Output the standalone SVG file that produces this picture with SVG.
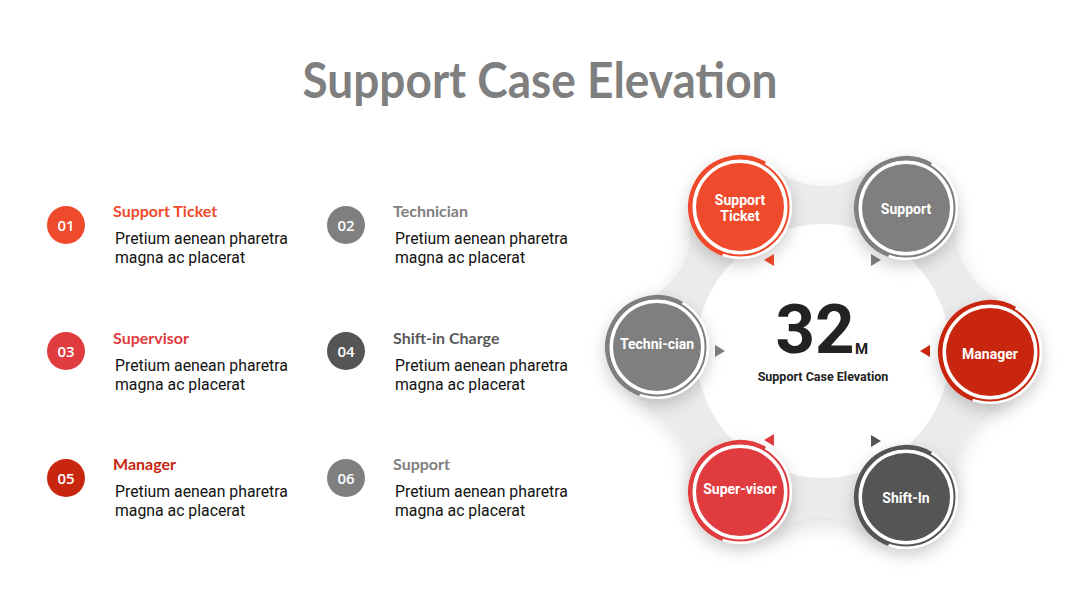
<svg xmlns="http://www.w3.org/2000/svg" width="1080" height="608" viewBox="0 0 1080 608">
<defs>
<style>
.title{font-family:Lato,"Open Sans","Liberation Sans",sans-serif;font-weight:700;fill:#7f7f7f}
.num{font-family:"Open Sans","Liberation Sans",sans-serif;font-weight:600;font-size:15px;fill:#fff;text-anchor:middle}
.head{font-family:Lato,"Open Sans","Liberation Sans",sans-serif;font-weight:700;font-size:16px}
.body{font-family:Roboto,"Liberation Sans",sans-serif;font-size:15.8px;fill:#111}
.lbl{font-family:Roboto,"Liberation Sans",sans-serif;font-weight:700;font-size:14px;fill:#fff;text-anchor:middle}
.ring{fill:none;stroke-width:2}
.arc{fill:none;stroke-width:4}
</style>
<filter id="sh" x="-50%" y="-50%" width="200%" height="200%"><feDropShadow dx="0" dy="6" stdDeviation="8" flood-color="#000" flood-opacity="0.2"/></filter>
<filter id="bsh" x="-20%" y="-20%" width="140%" height="140%"><feDropShadow dx="0" dy="8" stdDeviation="10" flood-color="#000" flood-opacity="0.12"/></filter>
<path id="wedge" d="M823 351 L740 207.24 L773.9 167.8 A75.4 75.4 0 0 0 872.1 167.8 L906 207.24 Z"/>
<path id="tl" d="M-5 0 L5 -6 L5 6 Z"/>
<path id="tr" d="M5 0 L-5 -6 L-5 6 Z"/>
</defs>
<rect width="1080" height="608" fill="#fff"/>
<text class="title" x="540" y="98" font-size="50" text-anchor="middle" textLength="475" lengthAdjust="spacingAndGlyphs">Support Case Elevation</text>

<g id="item-01"><circle cx="66" cy="225" r="19" fill="#f04a2c"/><text class="num" x="66" y="230.5">01</text>
<text class="head" x="113" y="217" fill="#f04a2c">Support Ticket</text>
<text class="body" x="115" y="244">Pretium aenean pharetra</text><text class="body" x="115" y="263">magna ac placerat</text></g>
<g id="item-02"><circle cx="346" cy="225" r="19" fill="#7f7f7f"/><text class="num" x="346" y="230.5">02</text>
<text class="head" x="393" y="217" fill="#808080">Technician</text>
<text class="body" x="395" y="244">Pretium aenean pharetra</text><text class="body" x="395" y="263">magna ac placerat</text></g>
<g id="item-03"><circle cx="66" cy="351" r="19" fill="#e03c3f"/><text class="num" x="66" y="356.5">03</text>
<text class="head" x="113" y="344" fill="#e03c3f">Supervisor</text>
<text class="body" x="115" y="371">Pretium aenean pharetra</text><text class="body" x="115" y="390">magna ac placerat</text></g>
<g id="item-04"><circle cx="346" cy="351" r="19" fill="#555"/><text class="num" x="346" y="356.5">04</text>
<text class="head" x="393" y="344" fill="#595959">Shift-in Charge</text>
<text class="body" x="395" y="371">Pretium aenean pharetra</text><text class="body" x="395" y="390">magna ac placerat</text></g>
<g id="item-05"><circle cx="66" cy="478" r="19" fill="#c8260f"/><text class="num" x="66" y="483.5">05</text>
<text class="head" x="113" y="470" fill="#c8260f">Manager</text>
<text class="body" x="115" y="497">Pretium aenean pharetra</text><text class="body" x="115" y="516">magna ac placerat</text></g>
<g id="item-06"><circle cx="346" cy="478" r="19" fill="#7f7f7f"/><text class="num" x="346" y="483.5">06</text>
<text class="head" x="393" y="470" fill="#808080">Support</text>
<text class="body" x="395" y="497">Pretium aenean pharetra</text><text class="body" x="395" y="516">magna ac placerat</text></g>

<g id="connectors">
<g filter="url(#bsh)" fill="#ebebeb">
<use href="#wedge"/>
<use href="#wedge" transform="rotate(60 823 351)"/>
<use href="#wedge" transform="rotate(120 823 351)"/>
<use href="#wedge" transform="rotate(180 823 351)"/>
<use href="#wedge" transform="rotate(240 823 351)"/>
<use href="#wedge" transform="rotate(300 823 351)"/>
</g>
<circle cx="823" cy="351" r="127" fill="#fff"/>
<use href="#tl" x="769" y="260" fill="#f04a2c"/>
<use href="#tr" x="876" y="260" fill="#7f7f7f"/>
<use href="#tr" x="720" y="351" fill="#7f7f7f"/>
<use href="#tl" x="925" y="351" fill="#c8260f"/>
<use href="#tl" x="769" y="440" fill="#e03c3f"/>
<use href="#tr" x="876" y="441" fill="#555"/>
</g>

<g id="center">
<text x="815" y="353" font-family="Roboto,'Liberation Sans',sans-serif" font-weight="700" font-size="69" fill="#222" text-anchor="middle">32</text>
<text x="855" y="354" font-family="Roboto,'Liberation Sans',sans-serif" font-weight="700" font-size="15" fill="#222">M</text>
<text x="823" y="381" font-family="Roboto,'Liberation Sans',sans-serif" font-weight="700" font-size="12.5" fill="#222" text-anchor="middle">Support Case Elevation</text>
</g>

<g id="node-support-ticket" transform="translate(740 207)">
<circle r="52" fill="#fff" filter="url(#sh)"/>
<circle r="48.5" class="ring" stroke="#f04a2c"/>
<path d="M25 -43.3 A50 50 0 1 0 -17.1 47" class="arc" stroke="#f04a2c"/>
<circle r="44" fill="#f04a2c"/>
<text class="lbl" x="0" y="-2">Support</text><text class="lbl" x="0" y="14">Ticket</text>
</g>
<g id="node-support" transform="translate(906 208)">
<circle r="52" fill="#fff" filter="url(#sh)"/>
<circle r="48.5" class="ring" stroke="#7f7f7f"/>
<path d="M25 -43.3 A50 50 0 1 0 -17.1 47" class="arc" stroke="#7f7f7f"/>
<circle r="44" fill="#7f7f7f"/>
<text class="lbl" x="0" y="6">Support</text>
</g>
<g id="node-technician" transform="translate(657 347)">
<circle r="52" fill="#fff" filter="url(#sh)"/>
<circle r="48.5" class="ring" stroke="#7f7f7f"/>
<path d="M25 -43.3 A50 50 0 1 0 -17.1 47" class="arc" stroke="#7f7f7f"/>
<circle r="44" fill="#7f7f7f"/>
<text class="lbl" x="0" y="2">Techni-cian</text>
</g>
<g id="node-manager" transform="translate(990 352)">
<circle r="52" fill="#fff" filter="url(#sh)"/>
<circle r="48.5" class="ring" stroke="#c8260f"/>
<path d="M25 -43.3 A50 50 0 1 0 -17.1 47" class="arc" stroke="#c8260f"/>
<circle r="44" fill="#c8260f"/>
<text class="lbl" x="0" y="7">Manager</text>
</g>
<g id="node-supervisor" transform="translate(740 492)">
<circle r="52" fill="#fff" filter="url(#sh)"/>
<circle r="48.5" class="ring" stroke="#e03c3f"/>
<path d="M25 -43.3 A50 50 0 1 0 -17.1 47" class="arc" stroke="#e03c3f"/>
<circle r="44" fill="#e03c3f"/>
<text class="lbl" x="0" y="2">Super-visor</text>
</g>
<g id="node-shift-in" transform="translate(906 497)">
<circle r="52" fill="#fff" filter="url(#sh)"/>
<circle r="48.5" class="ring" stroke="#555"/>
<path d="M25 -43.3 A50 50 0 1 0 -17.1 47" class="arc" stroke="#555"/>
<circle r="44" fill="#555"/>
<text class="lbl" x="0" y="6">Shift-In</text>
</g>
</svg>
